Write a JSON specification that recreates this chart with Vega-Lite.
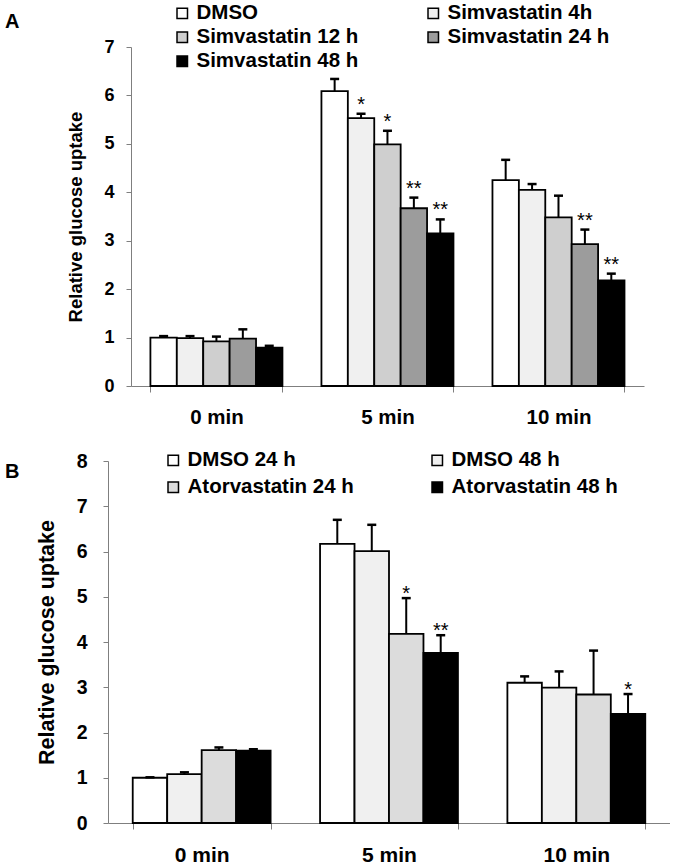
{
  "$schema": "https://vega.github.io/schema/vega-lite/v6.json",
  "padding": {"left": 5, "top": 3, "right": 0, "bottom": 0},
  "config": {
    "font": "Liberation Sans",
    "view": {"stroke": null},
    "axis": {"grid": false, "domainColor": "#7f7f7f", "tickColor": "#7f7f7f", "labelColor": "#000", "titleColor": "#000", "labelFontWeight": "bold", "titleFontWeight": "bold"},
    "legend": {"labelColor": "#000"}
  },
  "columns": 1,
  "spacing": 22,
  "resolve": {"scale": {"color": "independent", "x": "independent", "y": "independent", "xOffset": "independent"}, "legend": {"color": "independent"}},
  "datasets": {
    "a": [
      {"time": "0 min", "group": "DMSO", "value": 1.00, "hi": 1.03, "sig": ""},
      {"time": "0 min", "group": "Simvastatin 4h", "value": 0.99, "hi": 1.03, "sig": ""},
      {"time": "0 min", "group": "Simvastatin 12 h", "value": 0.92, "hi": 1.02, "sig": ""},
      {"time": "0 min", "group": "Simvastatin 24 h", "value": 0.98, "hi": 1.17, "sig": ""},
      {"time": "0 min", "group": "Simvastatin 48 h", "value": 0.79, "hi": 0.83, "sig": ""},
      {"time": "5 min", "group": "DMSO", "value": 6.09, "hi": 6.34, "sig": ""},
      {"time": "5 min", "group": "Simvastatin 4h", "value": 5.53, "hi": 5.62, "sig": "*"},
      {"time": "5 min", "group": "Simvastatin 12 h", "value": 4.99, "hi": 5.27, "sig": "*"},
      {"time": "5 min", "group": "Simvastatin 24 h", "value": 3.67, "hi": 3.89, "sig": "**"},
      {"time": "5 min", "group": "Simvastatin 48 h", "value": 3.15, "hi": 3.44, "sig": "**"},
      {"time": "10 min", "group": "DMSO", "value": 4.25, "hi": 4.67, "sig": ""},
      {"time": "10 min", "group": "Simvastatin 4h", "value": 4.05, "hi": 4.17, "sig": ""},
      {"time": "10 min", "group": "Simvastatin 12 h", "value": 3.48, "hi": 3.93, "sig": ""},
      {"time": "10 min", "group": "Simvastatin 24 h", "value": 2.93, "hi": 3.23, "sig": "**"},
      {"time": "10 min", "group": "Simvastatin 48 h", "value": 2.18, "hi": 2.32, "sig": "**"}
    ],
    "b": [
      {"time": "0 min", "group": "DMSO 24 h", "value": 1.00, "hi": 1.01, "sig": ""},
      {"time": "0 min", "group": "DMSO 48 h", "value": 1.08, "hi": 1.12, "sig": ""},
      {"time": "0 min", "group": "Atorvastatin 24 h", "value": 1.61, "hi": 1.67, "sig": ""},
      {"time": "0 min", "group": "Atorvastatin 48 h", "value": 1.60, "hi": 1.63, "sig": ""},
      {"time": "5 min", "group": "DMSO 24 h", "value": 6.17, "hi": 6.70, "sig": ""},
      {"time": "5 min", "group": "DMSO 48 h", "value": 6.01, "hi": 6.59, "sig": ""},
      {"time": "5 min", "group": "Atorvastatin 24 h", "value": 4.18, "hi": 4.97, "sig": "*"},
      {"time": "5 min", "group": "Atorvastatin 48 h", "value": 3.76, "hi": 4.15, "sig": "**"},
      {"time": "10 min", "group": "DMSO 24 h", "value": 3.10, "hi": 3.24, "sig": ""},
      {"time": "10 min", "group": "DMSO 48 h", "value": 2.99, "hi": 3.35, "sig": ""},
      {"time": "10 min", "group": "Atorvastatin 24 h", "value": 2.84, "hi": 3.81, "sig": ""},
      {"time": "10 min", "group": "Atorvastatin 48 h", "value": 2.41, "hi": 2.85, "sig": "*"}
    ]
  },
  "concat": [
    {
      "title": {"text": "A", "anchor": "start", "frame": "group", "dx": -103, "offset": -29, "fontSize": 20, "fontWeight": "bold", "color": "#000"},
      "width": 536,
      "height": 339,
      "data": {"name": "a"},
      "encoding": {
        "x": {"field": "time", "type": "nominal", "sort": ["0 min", "5 min", "10 min"],
          "scale": {"paddingInner": 0.228, "paddingOuter": 0.181, "align": 0.685},
          "axis": {"title": null, "labelAngle": 0, "labelFontSize": 20.5, "labelPadding": 15, "tickBand": "extent", "tickSize": 6, "domainDash": [0, 23, 513, 1000]}},
        "xOffset": {"field": "group", "type": "nominal", "sort": ["DMSO", "Simvastatin 4h", "Simvastatin 12 h", "Simvastatin 24 h", "Simvastatin 48 h"], "scale": {"paddingInner": 0, "paddingOuter": 0}}
      },
      "layer": [
        {
          "mark": {"type": "bar", "stroke": "#000", "strokeWidth": 1.8},
          "encoding": {
            "y": {"field": "value", "type": "quantitative", "scale": {"domain": [0, 7]},
              "axis": {"title": "Relative glucose uptake", "offset": -23, "values": [0, 1, 2, 3, 4, 5, 6, 7], "labelFontSize": 18, "titleFontSize": 18.5, "labelPadding": 12, "titlePadding": 18, "tickSize": 5}},
            "color": {"field": "group", "type": "nominal",
              "scale": {"domain": ["DMSO", "Simvastatin 4h", "Simvastatin 12 h", "Simvastatin 24 h", "Simvastatin 48 h"], "range": ["#ffffff", "#f0f0f0", "#cfcfcf", "#9c9c9c", "#000000"]},
              "legend": {"orient": "none", "legendX": 64, "legendY": -44, "columns": 2, "direction": "horizontal", "title": null, "symbolType": "square", "symbolSize": 110, "symbolStrokeColor": "#000", "symbolStrokeWidth": 1.5, "labelFontSize": 20.5, "labelFontWeight": "bold", "labelLimit": 300, "labelOffset": 4, "rowPadding": 3, "columnPadding": 64}}
          }
        },
        {"mark": {"type": "rule", "strokeWidth": 2, "color": "#000"},
          "encoding": {"y": {"field": "value", "type": "quantitative"}, "y2": {"field": "hi"}}},
        {"mark": {"type": "tick", "size": 9, "thickness": 2.5, "color": "#000", "opacity": 1},
          "encoding": {"y": {"field": "hi", "type": "quantitative"}}},
        {"mark": {"type": "text", "baseline": "alphabetic", "dy": -3, "fontSize": 20, "color": "#000"},
          "encoding": {"y": {"field": "hi", "type": "quantitative"}, "text": {"field": "sig"}}}
      ]
    },
    {
      "title": {"text": "B", "anchor": "start", "frame": "group", "dx": -103, "offset": -32, "fontSize": 20, "fontWeight": "bold", "color": "#000"},
      "width": 562,
      "height": 362,
      "data": {"name": "b"},
      "encoding": {
        "x": {"field": "time", "type": "nominal", "sort": ["0 min", "5 min", "10 min"],
          "scale": {"paddingInner": 0.264, "paddingOuter": 0.132},
          "axis": {"title": null, "labelAngle": 0, "labelFontSize": 21, "labelPadding": 15, "tickBand": "extent", "tickSize": 6}},
        "xOffset": {"field": "group", "type": "nominal", "sort": ["DMSO 24 h", "DMSO 48 h", "Atorvastatin 24 h", "Atorvastatin 48 h"], "scale": {"paddingInner": 0, "paddingOuter": 0}}
      },
      "layer": [
        {
          "mark": {"type": "bar", "stroke": "#000", "strokeWidth": 1.8},
          "encoding": {
            "y": {"field": "value", "type": "quantitative", "scale": {"domain": [0, 8]},
              "axis": {"title": "Relative glucose uptake", "values": [0, 1, 2, 3, 4, 5, 6, 7, 8], "labelFontSize": 19.5, "titleFontSize": 21.5, "labelPadding": 16, "titlePadding": 18, "tickSize": 5}},
            "color": {"field": "group", "type": "nominal",
              "scale": {"domain": ["DMSO 24 h", "DMSO 48 h", "Atorvastatin 24 h", "Atorvastatin 48 h"], "range": ["#ffffff", "#f0f0f0", "#dcdcdc", "#000000"]},
              "legend": {"orient": "none", "legendX": 55, "legendY": -11, "columns": 2, "direction": "horizontal", "title": null, "symbolType": "square", "symbolSize": 110, "symbolStrokeColor": "#000", "symbolStrokeWidth": 1.5, "labelFontSize": 20.5, "labelFontWeight": "bold", "labelLimit": 300, "labelOffset": 4, "rowPadding": 6, "columnPadding": 73}}
          }
        },
        {"mark": {"type": "rule", "strokeWidth": 2, "color": "#000"},
          "encoding": {"y": {"field": "value", "type": "quantitative"}, "y2": {"field": "hi"}}},
        {"mark": {"type": "tick", "size": 9, "thickness": 2.5, "color": "#000", "opacity": 1},
          "encoding": {"y": {"field": "hi", "type": "quantitative"}}},
        {"mark": {"type": "text", "baseline": "alphabetic", "dy": 2, "fontSize": 20, "color": "#000"},
          "encoding": {"y": {"field": "hi", "type": "quantitative"}, "text": {"field": "sig"}}}
      ]
    }
  ]
}
